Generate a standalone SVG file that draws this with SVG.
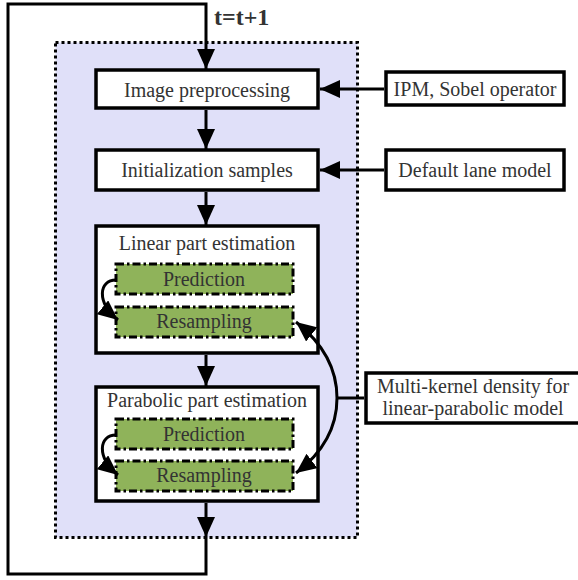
<svg xmlns="http://www.w3.org/2000/svg" width="578" height="580" viewBox="0 0 578 580">
<defs>
<marker id="ah" markerUnits="userSpaceOnUse" markerWidth="21" markerHeight="18" refX="20" refY="9" orient="auto">
<path d="M0,0 L20,9 L0,18 z" fill="#000"/>
</marker>
<style>
.t{font-family:'Liberation Serif',serif;font-size:20px;fill:#333;text-anchor:middle}
.box{fill:#fff;stroke:#000;stroke-width:3.5}
.green{fill:#8fb35a;stroke:#000;stroke-width:3;stroke-dasharray:8 3 2.5 3}
.ln{fill:none;stroke:#000;stroke-width:3}
</style>
</defs>
<rect width="578" height="580" fill="#fff"/>
<g id="container">
<rect x="55.5" y="42.5" width="302" height="495" fill="#e0e0f9" stroke="#000" stroke-width="3" stroke-dasharray="3 3"/>
</g>
<text x="214" y="25" class="t" style="font-weight:bold;font-size:24px;text-anchor:start">t=t+1</text>
<g id="image-preprocessing">
<rect class="box" x="96" y="70" width="222" height="38"/>
<text class="t" x="207" y="97">Image preprocessing</text>
</g>
<g id="initialization-samples">
<rect class="box" x="96" y="150" width="222" height="40"/>
<text class="t" x="207" y="177">Initialization samples</text>
</g>
<g id="linear-part">
<rect class="box" x="96" y="226" width="222" height="127"/>
<text class="t" x="207" y="250">Linear part estimation</text>
</g>
<g id="linear-prediction">
<rect class="green" x="116" y="264" width="177" height="30"/>
<text class="t" x="204" y="286">Prediction</text>
</g>
<g id="linear-resampling">
<rect class="green" x="116" y="307" width="177" height="30"/>
<text class="t" x="204" y="328">Resampling</text>
</g>
<g id="parabolic-part">
<rect class="box" x="96" y="387" width="222" height="114"/>
<text class="t" x="207" y="407">Parabolic part estimation</text>
</g>
<g id="parabolic-prediction">
<rect class="green" x="116" y="419" width="177" height="30"/>
<text class="t" x="204" y="441">Prediction</text>
</g>
<g id="parabolic-resampling">
<rect class="green" x="116" y="461" width="177" height="30"/>
<text class="t" x="204" y="482">Resampling</text>
</g>
<g id="ipm-sobel">
<rect class="box" x="386" y="72" width="178" height="33"/>
<text class="t" x="475" y="96">IPM, Sobel operator</text>
</g>
<g id="default-lane-model">
<rect class="box" x="386" y="150" width="178" height="40"/>
<text class="t" x="475" y="177">Default lane model</text>
</g>
<g id="multi-kernel">
<rect class="box" x="366" y="373" width="220" height="50"/>
<text class="t" x="473" y="393">Multi-kernel density for</text>
<text class="t" x="473" y="415">linear-parabolic model</text>
</g>
<g id="connectors">
<polyline class="ln" points="206,537 206,574 8,574 8,4 206,4 206,69" marker-end="url(#ah)"/>
<line class="ln" x1="206" y1="110" x2="206" y2="149" marker-end="url(#ah)"/>
<line class="ln" x1="206" y1="192" x2="206" y2="225" marker-end="url(#ah)"/>
<line class="ln" x1="206" y1="355" x2="206" y2="386" marker-end="url(#ah)"/>
<line class="ln" x1="206" y1="503" x2="206" y2="537" marker-end="url(#ah)"/>
<line class="ln" x1="384" y1="89" x2="320" y2="89" marker-end="url(#ah)"/>
<line class="ln" x1="384" y1="170" x2="320" y2="170" marker-end="url(#ah)"/>
<line class="ln" x1="364" y1="398" x2="336" y2="398"/>
<path class="ln" d="M337,398 C337,370 325,345 296,322" marker-end="url(#ah)"/>
<path class="ln" d="M337,398 C337,426 325,451 296,473" marker-end="url(#ah)"/>
<path class="ln" d="M116,280 C99,280 96,302 118,320" marker-end="url(#ah)"/>
<path class="ln" d="M116,435 C99,435 96,457 118,475" marker-end="url(#ah)"/>
</g>
</svg>
